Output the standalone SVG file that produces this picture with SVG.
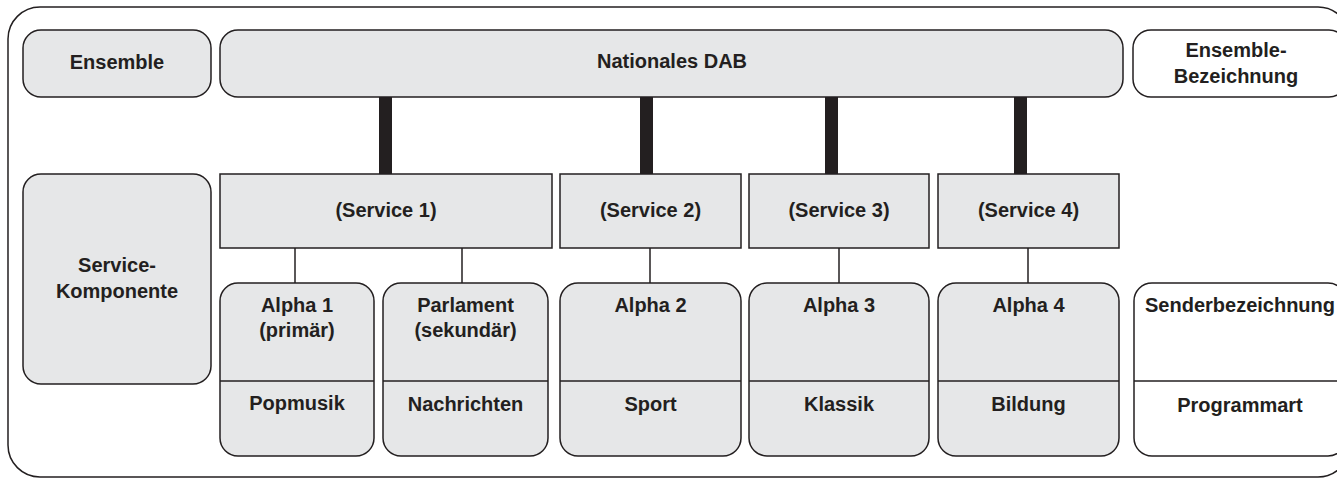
<svg xmlns="http://www.w3.org/2000/svg" width="1337" height="479" viewBox="0 0 1337 479">
<style>
.g{fill:#e6e7e8;stroke:#231f20;stroke-width:1.5}
.w{fill:#ffffff;stroke:#231f20;stroke-width:1.5}
.ln{stroke:#231f20;stroke-width:1.5;fill:none}
.bar{fill:#231f20}
text{font-family:"Liberation Sans",Arial,Helvetica,sans-serif;font-weight:bold;font-size:20px;fill:#231f20;text-anchor:middle}
</style>
<rect x="0" y="0" width="1337" height="479" fill="#ffffff"/>
<rect id="frame" x="8" y="7" width="1342" height="470" rx="32" class="w"/>
<g id="connectors">
<rect class="bar" x="379" y="97" width="13" height="77"/>
<rect class="bar" x="640" y="97" width="13" height="77"/>
<rect class="bar" x="825" y="97" width="13" height="77"/>
<rect class="bar" x="1014" y="97" width="13" height="77"/>
<line class="ln" x1="295" y1="248" x2="295" y2="283"/>
<line class="ln" x1="462" y1="248" x2="462" y2="283"/>
<line class="ln" x1="650" y1="248" x2="650" y2="283"/>
<line class="ln" x1="839" y1="248" x2="839" y2="283"/>
<line class="ln" x1="1028" y1="248" x2="1028" y2="283"/>
</g>
<g id="ensemble"><rect class="g" x="23" y="30" width="188" height="67" rx="18"/><text x="117" y="69">Ensemble</text></g>
<g id="nationales-dab"><rect class="g" x="220" y="30" width="903" height="67" rx="18"/><text x="672" y="68">Nationales DAB</text></g>
<g id="ensemble-bezeichnung"><rect class="w" x="1133" y="30" width="214" height="67" rx="18"/><text x="1236" y="57">Ensemble-</text><text x="1236" y="83">Bezeichnung</text></g>
<g id="service-komponente"><rect class="g" x="23" y="174" width="188" height="210" rx="18"/><text x="117" y="272">Service-</text><text x="117" y="298">Komponente</text></g>
<g id="service1"><rect class="g" x="220" y="174" width="332" height="74"/><text x="386" y="217">(Service 1)</text></g>
<g id="service2"><rect class="g" x="560" y="174" width="181" height="74"/><text x="650.5" y="217">(Service 2)</text></g>
<g id="service3"><rect class="g" x="749" y="174" width="180" height="74"/><text x="839" y="217">(Service 3)</text></g>
<g id="service4"><rect class="g" x="938" y="174" width="181" height="74"/><text x="1028.5" y="217">(Service 4)</text></g>
<g id="alpha1"><rect class="g" x="220" y="283" width="154" height="173" rx="18"/><line class="ln" x1="220" y1="381" x2="374" y2="381"/><text x="297" y="312">Alpha 1</text><text x="297" y="337">(primär)</text><text x="297" y="410">Popmusik</text></g>
<g id="parlament"><rect class="g" x="383" y="283" width="165" height="173" rx="18"/><line class="ln" x1="383" y1="381" x2="548" y2="381"/><text x="465.5" y="312">Parlament</text><text x="465.5" y="337">(sekundär)</text><text x="465.5" y="411">Nachrichten</text></g>
<g id="alpha2"><rect class="g" x="560" y="283" width="181" height="173" rx="18"/><line class="ln" x1="560" y1="381" x2="741" y2="381"/><text x="650.5" y="312">Alpha 2</text><text x="650.5" y="411">Sport</text></g>
<g id="alpha3"><rect class="g" x="749" y="283" width="180" height="173" rx="18"/><line class="ln" x1="749" y1="381" x2="929" y2="381"/><text x="839" y="312">Alpha 3</text><text x="839" y="411">Klassik</text></g>
<g id="alpha4"><rect class="g" x="938" y="283" width="181" height="173" rx="18"/><line class="ln" x1="938" y1="381" x2="1119" y2="381"/><text x="1028.5" y="312">Alpha 4</text><text x="1028.5" y="411">Bildung</text></g>
<g id="senderbezeichnung"><rect class="w" x="1134" y="283" width="212" height="173" rx="18"/><line class="ln" x1="1134" y1="381" x2="1346" y2="381"/><text x="1240" y="312">Senderbezeichnung</text><text x="1240" y="412">Programmart</text></g>
</svg>
